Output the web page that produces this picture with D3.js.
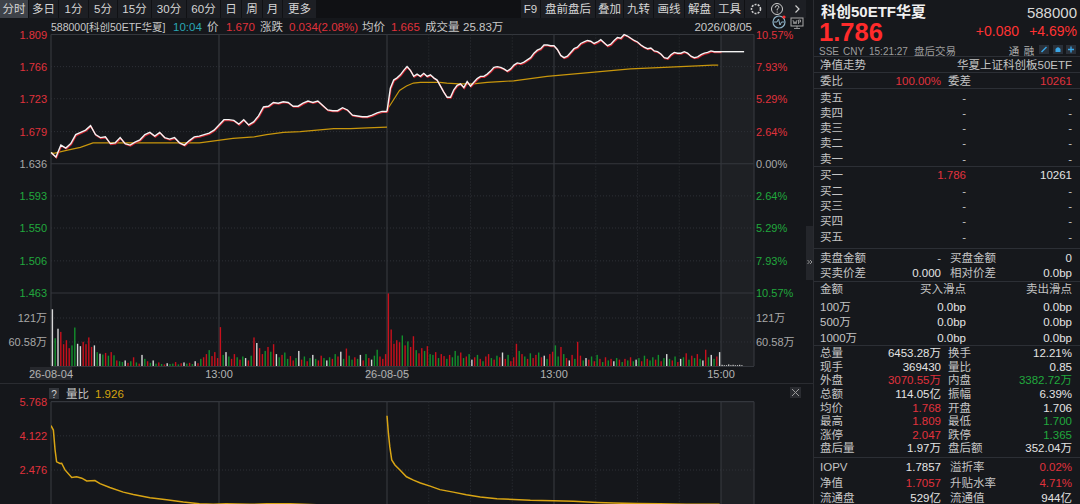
<!DOCTYPE html>
<html>
<head>
<meta charset="utf-8">
<script src="https://cdn.jsdelivr.net/npm/d3@7"></script>
<style>
html, body { margin: 0; padding: 0; background: #15171b; overflow: hidden; }
svg { display: block; font-family: "Liberation Sans", "Noto Sans CJK SC", sans-serif; }
</style>
</head>
<body>
<div id="chart"></div>
<script>
// ---- data ----
var priceTicks = [1.809, 1.766, 1.723, 1.679, 1.636, 1.593, 1.550, 1.506, 1.463];
var pctLabels = ["10.57%", "7.93%", "5.29%", "2.64%", "0.00%", "2.64%", "5.29%", "7.93%", "10.57%"];
var volTicks = [121, 60.58];
var volLabels = ["121万", "60.58万"];
var ratioTicks = [5.768, 4.122, 2.476];
var timeTicks = [0, 120, 240, 360, 480];
var timeLabels = ["26-08-04", "13:00", "26-08-05", "13:00", "15:00"];

// minute price, day 1 (evenly spread 9:30 -> 15:00)
var day1Price = [1.651, 1.645, 1.661, 1.657, 1.663, 1.675, 1.678, 1.681, 1.687,
  1.675, 1.671, 1.672, 1.663, 1.664, 1.671, 1.663, 1.661, 1.665, 1.668, 1.675, 1.678, 1.673, 1.678, 1.671, 1.669, 1.671, 1.664,
  1.661,
  1.667, 1.672, 1.673, 1.675, 1.677, 1.681, 1.688, 1.695, 1.695, 1.694, 1.689, 1.695, 1.688, 1.692, 1.700, 1.712, 1.713, 1.718,
  1.717, 1.719, 1.718, 1.713, 1.713, 1.717, 1.720, 1.718, 1.720, 1.714,
  1.708,
  1.707, 1.707, 1.711, 1.708, 1.701, 1.700, 1.699, 1.699, 1.701, 1.704, 1.706,
  1.706];
var day2Price = [1.706, 1.737, 1.748, 1.751, 1.755, 1.761, 1.766, 1.761, 1.753, 1.756,
  1.753, 1.757, 1.753, 1.755, 1.751, 1.748, 1.740, 1.732, 1.725, 1.725,
  1.735, 1.741, 1.743, 1.738, 1.746, 1.740, 1.745, 1.750, 1.753, 1.753,
  1.756, 1.760, 1.765, 1.766, 1.765, 1.763, 1.760, 1.763, 1.768, 1.771,
  1.770, 1.772, 1.775, 1.778, 1.784, 1.788, 1.790, 1.795, 1.795, 1.794,
  1.794, 1.789, 1.781, 1.778, 1.780, 1.785, 1.790, 1.792, 1.797, 1.799,
  1.801, 1.800, 1.797, 1.799, 1.802, 1.798, 1.794, 1.796, 1.801, 1.805,
  1.804, 1.809, 1.807, 1.804, 1.801, 1.799, 1.795, 1.792, 1.790, 1.791,
  1.787, 1.786, 1.783, 1.778, 1.777, 1.782, 1.785, 1.784, 1.784, 1.786,
  1.784, 1.780, 1.778, 1.779, 1.782, 1.784, 1.785, 1.787, 1.786, 1.786,
  1.786];
var afterMin = [0, 21];
var afterPrice = [1.786, 1.786];

// average price line
var day1AvgMin = [0, 2, 11, 21, 30, 106, 118, 130, 145, 154, 166, 178, 190, 202, 214, 226, 240];
var day1Avg = [1.651, 1.650, 1.654, 1.658, 1.664, 1.664, 1.667, 1.670, 1.672, 1.675, 1.678, 1.679, 1.681, 1.683, 1.683, 1.684, 1.685];
var day2AvgMin = [0, 4.5, 9, 14, 19, 24, 31, 38, 43, 52, 62, 72, 81, 91, 103, 115, 127, 139, 151, 163, 175, 187, 199, 211, 223, 234, 238];
var day2Avg = [1.708, 1.721, 1.734, 1.740, 1.744, 1.745, 1.745, 1.745, 1.744, 1.743, 1.743, 1.745, 1.746, 1.747, 1.750, 1.753,
  1.755, 1.757, 1.759, 1.761, 1.763, 1.764, 1.765, 1.766, 1.767, 1.768, 1.768];

// volume (万) per 2 minutes, r = up, g = down, w = flat
var day1Vol = [143, 70, 94, 86, 55, 65, 45, 52, 97, 56, 50, 61,
  55, 72, 48, 52, 35, 31, 29, 33, 26, 35, 27, 14,
  12, 10, 14, 8, 12, 22, 9, 6, 28, 18, 12, 8,
  14, 6, 9, 5, 4, 7, 5, 6, 10, 4, 7, 9,
  6, 8, 5, 12, 7, 18, 22, 30, 40, 25, 35, 20,
  98, 28, 35, 24, 18, 30, 22, 16, 24, 20, 14, 26,
  72, 58, 45, 30, 38, 48, 36, 55, 30, 22, 28, 34,
  18, 25, 14, 20, 38, 16, 24, 12, 20, 28, 18, 14,
  26, 20, 14, 22, 18, 30, 24, 36, 18, 44, 26, 16,
  22, 18, 28, 14, 30, 20, 16, 26, 41, 24, 18, 30];
var day1Dir = "wgwrrrrggwwr" + "rrrwgwgrgrgr" + "ggwrgrgrwgrg" + "wgrgrwggrgrw" + "grgwrgrrgrrr" +
  "rgwgrrgrgwrg" + "rwrrgrgrwgrg" + "grrgwrgrgwgr" + "rgwgrgrwgrgg" + "rgwrgrwggrrr";
var day2Vol = [183, 92, 56, 65, 60, 77, 52, 62, 48, 75, 40, 32,
  45, 38, 50, 30, 28, 35, 20, 30, 25, 18, 28, 22,
  38, 26, 34, 20, 24, 30, 16, 22, 28, 18, 12, 24,
  30, 20, 16, 26, 22, 34, 18, 28, 12, 22, 56, 38,
  30, 24, 18, 32, 20, 28, 34, 22, 26, 18, 30, 36,
  52, 24, 48, 30, 20, 14, 28, 18, 61, 26, 14, 20,
  16, 24, 12, 28, 18, 10, 22, 14, 18, 12, 20, 16,
  10, 18, 14, 22, 12, 16, 20, 12, 26, 18, 14, 22,
  16, 28, 12, 20, 30, 18, 14, 24, 10, 18, 22, 32,
  16, 26, 20, 30, 18, 14, 41, 22, 28, 18, 24, 35];
var day2Dir = "rrrrrgrgrrgr" + "rgrggrgrrgrg" + "ggrgrgwrgrgr" + "rgrgrwrgrrrg" + "rgrgrrgrwgrr" +
  "ggrgrwrgrrgw" + "rgrgrgrgrwgr" + "grgrgwgrgrgg" + "rgrgwgrgrwgr" + "grgrgwrgwgrw";
var afterVol = [3, 2, 2, 4, 2, 3, 2, 2, 3, 2];

// 量比 line
var day1RatioMin = [0, 1.7, 2.9, 4, 6.4, 7.6, 10, 14.8, 18.3, 22, 25.5, 31.4, 35, 42, 51.6, 58.8, 70.7, 82.6, 94.5, 106, 116, 125, 142, 154, 171, 190, 214, 239];
var day1Ratio = [4.62, 4.40, 3.45, 2.87, 2.79, 2.80, 2.48, 2.12, 2.15, 2.08, 1.95, 1.97, 1.82, 1.63, 1.41, 1.30, 1.14, 1.04, 0.93, 0.85, 0.82, 0.85, 0.82, 0.85, 0.85, 0.80, 0.78, 0.76];
var day2RatioMin = [0, 1, 2, 3.4, 5.7, 9.3, 14, 19, 24, 31, 38, 47.6, 57, 67, 79, 91, 103, 119.5, 134, 151, 163, 180, 196, 215, 239];
var day2Ratio = [5.09, 4.25, 3.60, 2.96, 2.72, 2.48, 2.15, 1.99, 1.85, 1.70, 1.53, 1.41, 1.28, 1.17, 1.09, 1.06, 1.02, 0.99, 0.97, 0.91, 0.88, 0.86, 0.85, 0.83, 0.82];

// right quote panel
var sellLabels = ["卖五", "卖四", "卖三", "卖二", "卖一"];
var buyLabels = ["买一", "买二", "买三", "买四", "买五"];
var buyPrices = ["1.786", "-", "-", "-", "-"];
var buySizes = ["10261", "-", "-", "-", "-"];
var slipLabels = ["100万", "500万", "1000万"];
var statLeft = ["总量", "现手", "外盘", "总额", "均价", "最高", "涨停", "盘后量"];
var statLeftVal = ["6453.28万", "369430", "3070.55万", "114.05亿", "1.768", "1.809", "2.047", "1.97万"];
var statLeftCol = ["w", "w", "r", "w", "r", "r", "r", "w"];
var statRight = ["换手", "量比", "内盘", "振幅", "开盘", "最低", "跌停", "盘后额"];
var statRightVal = ["12.21%", "0.85", "3382.72万", "6.39%", "1.706", "1.700", "1.365", "352.04万"];
var statRightCol = ["w", "w", "g", "w", "w", "g", "g", "w"];
var navLeft = ["IOPV", "净值", "流通盘"];
var navLeftVal = ["1.7857", "1.7057", "529亿"];
var navLeftCol = ["w", "r", "w"];
var navRight = ["溢折率", "升贴水率", "流通值"];
var navRightVal = ["0.02%", "4.71%", "944亿"];
var navRightCol = ["r", "r", "w"];

var tabs = ["分时", "多日", "1分", "5分", "15分", "30分", "60分", "日", "周", "月", "更多"];
var tabEdges = [0, 29, 59, 89, 118, 152, 187, 221, 242, 263, 283, 317];
var tools = ["F9", "盘前盘后", "叠加", "九转", "画线", "解盘", "工具"];
var toolEdges = [521, 541, 596, 624, 654, 685, 715, 745];

// ---- colours ----
var RED = "#e0323c", GREEN = "#21a83d", TXT = "#c4c4c4", WHITE = "#e4e4e4", GRIDC = "#34373d", DOTC = "#2e3137";
function col(c) { return c == "r" ? RED : (c == "g" ? GREEN : WHITE); }

// ---- scales ----
var x = d3.scaleLinear().domain([0, 240, 480, 510]).range([51, 387, 721, 754]);
var yP = d3.scaleLinear().domain([1.463, 1.809]).range([293, 34.5]);
var yV = d3.scaleLinear().domain([0, 121]).range([366, 318]);
var yR = d3.scaleLinear().domain([2.476, 5.768]).range([470, 401.7]);

var svg = d3.select("#chart").append("svg").attr("width", 1080).attr("height", 504);

function text(g, tx, ty, s, fill, size, anchor, weight) {
  return g.append("text").attr("x", tx).attr("y", ty).text(s)
    .attr("fill", fill).attr("font-size", size || 11)
    .attr("text-anchor", anchor || "start")
    .attr("font-weight", weight || "normal");
}

// backgrounds
svg.append("rect").attr("width", 1080).attr("height", 504).attr("fill", "#15171b");
svg.append("rect").attr("x", 814).attr("y", 0).attr("width", 266).attr("height", 504).attr("fill", "#16181c");
svg.append("line").attr("x1", 813.5).attr("x2", 813.5).attr("y1", 0).attr("y2", 504).attr("stroke", "#2a2c31");

// ---- toolbar ----
var bar = svg.append("g");
bar.append("rect").attr("x", 0).attr("y", 0).attr("width", 806).attr("height", 18).attr("fill", "#101114");
tabs.forEach(function(t, i) {
  bar.append("rect").attr("x", tabEdges[i]).attr("y", 0)
    .attr("width", tabEdges[i + 1] - tabEdges[i] - 1).attr("height", 18)
    .attr("fill", i == 0 ? "#3e4249" : "#1d1f24");
  text(bar, (tabEdges[i] + tabEdges[i + 1] - 1) / 2, 13, t, "#d6d6d6", 11.5, "middle");
});
tools.forEach(function(t, i) {
  bar.append("rect").attr("x", toolEdges[i]).attr("y", 0)
    .attr("width", toolEdges[i + 1] - toolEdges[i] - 1).attr("height", 18).attr("fill", "#1d1f24");
  text(bar, (toolEdges[i] + toolEdges[i + 1] - 1) / 2, 13, t, "#d6d6d6", 11.5, "middle");
});
[745, 767, 788].forEach(function(bx, i) {
  bar.append("rect").attr("x", bx).attr("y", 0).attr("width", (i == 2 ? 18 : 21)).attr("height", 18).attr("fill", "#1d1f24");
});
bar.append("circle").attr("cx", 756).attr("cy", 9).attr("r", 4.5).attr("fill", "none").attr("stroke", "#cfcfcf").attr("stroke-width", 1.6).attr("stroke-dasharray", "2 1.2");
bar.append("circle").attr("cx", 777).attr("cy", 9).attr("r", 5.5).attr("fill", "none").attr("stroke", "#cfcfcf").attr("stroke-width", 1);
bar.append("path").attr("d", "M775.2,7.6 Q775.5,5.4 777.3,5.5 Q779.2,5.8 778.8,7.6 Q778.3,8.6 777.2,9.2 L777.2,10.4 M777.2,11.6 L777.2,12.6")
  .attr("fill", "none").attr("stroke", "#cfcfcf").attr("stroke-width", 1);
bar.append("path").attr("d", "M795.5,5.5 L799,9 L795.5,12.5").attr("fill", "none").attr("stroke", "#cfcfcf").attr("stroke-width", 1.2);

// ---- info line ----
var info = svg.append("g");
text(info, 51, 31, "588000[科创50ETF华夏]", "#c8c8c8", 10.5);
text(info, 173, 31, "10:04", "#2aa6b4", 11.5);
text(info, 207, 31, "价", "#c8c8c8", 11.5);
text(info, 226, 31, "1.670", RED, 11.5);
text(info, 260, 31, "涨跌", "#c8c8c8", 11.5);
text(info, 289, 31, "0.034(2.08%)", RED, 11.5);
text(info, 362, 31, "均价", "#c8c8c8", 11.5);
text(info, 391, 31, "1.665", RED, 11.5);
text(info, 425, 31, "成交量", "#c8c8c8", 11.5);
text(info, 463, 31, "25.83万", "#c8c8c8", 11.5);
text(info, 752, 31, "2026/08/05", "#c8c8c8", 11.5, "end");
info.append("circle").attr("cx", 779).attr("cy", 22).attr("r", 6).attr("fill", "none").attr("stroke", "#8fb4c8").attr("stroke-width", 1.2);
info.append("path").attr("d", "M774,22 L777,22 L778.5,19 L780,25 L781.5,22 L784,22").attr("fill", "none").attr("stroke", "#8fb4c8").attr("stroke-width", 1);
info.append("circle").attr("cx", 784).attr("cy", 17).attr("r", 1.6).attr("fill", "#ff3030");
info.append("rect").attr("x", 791).attr("y", 18).attr("width", 12).attr("height", 8).attr("fill", "none").attr("stroke", "#aaa").attr("stroke-width", 1);
info.append("path").attr("d", "M793,20 L794,24 L795,21.5 L796,24 L797,20 M798.5,24 L798.5,20 L800.5,20 L800.5,22 L798.5,22 M794,28.5 L800,28.5 M797,26 L797,28.5")
  .attr("fill", "none").attr("stroke", "#aaa").attr("stroke-width", 0.8);

// ---- grids / panels ----
var grid = svg.append("g");
grid.append("rect").attr("x", x(480)).attr("y", 34.5).attr("width", x(510) - x(480)).attr("height", 366 - 34.5).attr("fill", "#1e2024");
grid.append("rect").attr("x", x(480)).attr("y", 401.7).attr("width", x(510) - x(480)).attr("height", 504 - 401.7).attr("fill", "#1e2024");

priceTicks.forEach(function(p, i) {
  var solid = (i == 0 || i == 4 || i == 8);
  grid.append("line").attr("x1", x(0)).attr("x2", x(510)).attr("y1", yP(p)).attr("y2", yP(p))
    .attr("stroke", solid ? GRIDC : DOTC).attr("stroke-width", solid ? 1.2 : 1)
    .attr("stroke-dasharray", solid ? null : "1 2");
});
volTicks.forEach(function(v) {
  grid.append("line").attr("x1", x(0)).attr("x2", x(510)).attr("y1", yV(v)).attr("y2", yV(v))
    .attr("stroke", DOTC).attr("stroke-dasharray", "1 2");
});
grid.append("line").attr("x1", x(0)).attr("x2", x(510)).attr("y1", yV(0) + 0.5).attr("y2", yV(0) + 0.5).attr("stroke", GRIDC);
ratioTicks.forEach(function(r, i) {
  grid.append("line").attr("x1", x(0)).attr("x2", x(510)).attr("y1", yR(r)).attr("y2", yR(r))
    .attr("stroke", i == 0 ? GRIDC : DOTC).attr("stroke-width", i == 0 ? 1.2 : 1)
    .attr("stroke-dasharray", i == 0 ? null : "1 2");
});
// vertical lines
[0, 120, 240, 360, 480, 510].forEach(function(m) {
  grid.append("line").attr("x1", x(m)).attr("x2", x(m)).attr("y1", 34.5).attr("y2", 366).attr("stroke", GRIDC).attr("stroke-width", 1.2);
  grid.append("line").attr("x1", x(m)).attr("x2", x(m)).attr("y1", 401.7).attr("y2", 504).attr("stroke", GRIDC).attr("stroke-width", 1.2);
});
[270, 300, 330, 390, 420, 450].forEach(function(m) {
  grid.append("line").attr("x1", x(m)).attr("x2", x(m)).attr("y1", 34.5).attr("y2", 366).attr("stroke", DOTC).attr("stroke-dasharray", "1 2");
  grid.append("line").attr("x1", x(m)).attr("x2", x(m)).attr("y1", 401.7).attr("y2", 504).attr("stroke", DOTC).attr("stroke-dasharray", "1 2");
});

// ---- axis labels ----
var axes = svg.append("g");
priceTicks.forEach(function(p, i) {
  var c = i < 4 ? RED : (i == 4 ? "#a8a8a8" : GREEN);
  text(axes, 47, yP(p) + 4, p.toFixed(3), c, 11, "end");
  text(axes, 756, yP(p) + 4, pctLabels[i], c, 11);
});
volTicks.forEach(function(v, i) {
  text(axes, 47, yV(v) + 4, volLabels[i], "#a8a8a8", 11, "end");
  text(axes, 756, yV(v) + 4, volLabels[i], "#a8a8a8", 11);
});
ratioTicks.forEach(function(r) {
  text(axes, 47, yR(r) + 4, r.toFixed(3), RED, 11, "end");
});
timeTicks.forEach(function(m, i) {
  var isDate = timeLabels[i].indexOf("-") > 0;
  if (isDate) {
    axes.append("rect").attr("x", x(m) - 21).attr("y", 367).attr("width", 42).attr("height", 13).attr("fill", "#26282d");
  }
  text(axes, x(m), 377.5, timeLabels[i], "#b4b4b4", 11, "middle");
});
svg.append("line").attr("x1", 0).attr("x2", 813).attr("y1", 383.5).attr("y2", 383.5).attr("stroke", "#2a2c31");

// ---- price lines ----
var plot = svg.append("g");
function dayLine(arr, offset) {
  var n = arr.length;
  return d3.line()
    .x(function(d, i) { return x(offset + i * 240 / (n - 1)); })
    .y(function(d) { return yP(d); })(arr);
}
function avgLine(mins, vals, offset, ys) {
  return d3.line()
    .x(function(d, i) { return x(offset + mins[i]); })
    .y(function(d) { return ys(d); })(vals);
}
plot.append("path").attr("d", avgLine(day1AvgMin, day1Avg, 0, yP)).attr("fill", "none").attr("stroke", "#c8960c").attr("stroke-width", 1.2);
plot.append("path").attr("d", avgLine(day2AvgMin, day2Avg, 240, yP)).attr("fill", "none").attr("stroke", "#c8960c").attr("stroke-width", 1.2);

[[day1Price, 0], [day2Price, 240]].forEach(function(p) {
  plot.append("path").attr("d", dayLine(p[0], p[1])).attr("fill", "none")
    .attr("stroke", "#c8202a").attr("stroke-width", 1.4).attr("transform", "translate(0.6,0.9)");
  plot.append("path").attr("d", dayLine(p[0], p[1])).attr("fill", "none")
    .attr("stroke", "#f4f4f4").attr("stroke-width", 1.4);
});
plot.append("path").attr("d", avgLine(afterMin, afterPrice, 480, yP)).attr("fill", "none").attr("stroke", "#f4f4f4").attr("stroke-width", 1.4);

// ---- volume bars ----
var vol = svg.append("g");
function bars(vals, dirs, offset) {
  vol.selectAll(null).data(vals).enter().append("rect")
    .attr("x", function(d, i) { return x(offset + i * 2 + 1) - 0.7; })
    .attr("y", function(d) { return yV(d); })
    .attr("width", 1.4)
    .attr("height", function(d) { return yV(0) - yV(d); })
    .attr("fill", function(d, i) { var c = dirs.charAt(i); return c == "r" ? "#c8101c" : (c == "g" ? "#12902c" : "#d8d8d8"); });
}
bars(day1Vol, day1Dir, 0);
bars(day2Vol, day2Dir, 240);
vol.selectAll(null).data(afterVol).enter().append("rect")
  .attr("x", function(d, i) { return x(480 + i * 2 + 1) - 0.6; })
  .attr("y", function(d) { return yV(d); })
  .attr("width", 1.2)
  .attr("height", function(d) { return yV(0) - yV(d); })
  .attr("fill", "#d8d8d8");

// ---- 量比 panel ----
var lower = svg.append("g");
lower.append("rect").attr("x", 49).attr("y", 388).attr("width", 10).attr("height", 11).attr("fill", "#33363c");
text(lower, 54, 397.5, "?", "#d0d0d0", 10, "middle");
text(lower, 66, 397.5, "量比", "#c8c8c8", 11.5);
text(lower, 95, 397.5, "1.926", "#d4a40f", 11.5);
lower.append("rect").attr("x", 790).attr("y", 387).attr("width", 11).attr("height", 11).attr("fill", "#2a2c31");
lower.append("path").attr("d", "M792,389 L799,396 M799,389 L792,396").attr("stroke", "#9a9a9a").attr("stroke-width", 1);
var clip = svg.append("clipPath").attr("id", "rclip");
clip.append("rect").attr("x", 51).attr("y", 401.7).attr("width", 703).attr("height", 103);
lower.append("path").attr("d", avgLine(day1RatioMin, day1Ratio, 0, yR)).attr("clip-path", "url(#rclip)")
  .attr("fill", "none").attr("stroke", "#d9a514").attr("stroke-width", 1.5);
lower.append("path").attr("d", avgLine(day2RatioMin, day2Ratio, 240, yR)).attr("clip-path", "url(#rclip)")
  .attr("fill", "none").attr("stroke", "#d9a514").attr("stroke-width", 1.5);

// ---- right quote panel ----
var rp = svg.append("g");
rp.append("rect").attr("x", 806).attr("y", 226).attr("width", 7).attr("height", 54).attr("fill", "#24262b");
rp.append("path").attr("d", "M807.5,260 L809.5,262 L807.5,264 M810,260 L812,262 L810,264").attr("fill", "none").attr("stroke", "#a0a0a0").attr("stroke-width", 0.9);

text(rp, 821, 16.5, "科创50ETF华夏", "#f0f0f0", 15, "start", "bold");
text(rp, 1077, 17.5, "588000", "#d8d8d8", 15, "end");
text(rp, 819, 41, "1.786", "#ff2b2b", 25.5, "start", "bold");
text(rp, 1019, 36, "+0.080", "#ff3333", 14, "end");
text(rp, 1077, 36, "+4.69%", "#ff3333", 14, "end");
text(rp, 819, 54.5, "SSE", "#9c9c9c", 10);
text(rp, 843, 54.5, "CNY", "#9c9c9c", 10);
text(rp, 869, 54.5, "15:21:27", "#9c9c9c", 10);
text(rp, 914, 54.5, "盘后交易", "#9c9c9c", 10.5);
text(rp, 1014, 54.5, "通", "#b0b0b0", 10.5, "middle");
text(rp, 1029, 54.5, "融", "#b0b0b0", 10.5, "middle");
[1039, 1053, 1066].forEach(function(bx) {
  rp.append("rect").attr("x", bx).attr("y", 45).attr("width", 10).attr("height", 9).attr("fill", "#2a3039");
});
rp.append("path").attr("d", "M1041.5,52 L1046.5,47").attr("stroke", "#3aa6e6").attr("stroke-width", 1.4);
rp.append("path").attr("d", "M1055.5,52 L1055.5,49 Q1058,45.5 1060.5,49 L1060.5,52 Z").attr("fill", "#3aa6e6");
rp.append("path").attr("d", "M1071,46.5 L1071,52.5 M1068,49.5 L1074,49.5").attr("stroke", "#3aa6e6").attr("stroke-width", 1.3);

[56, 72, 88, 166, 248, 281, 345, 457].forEach(function(ly) {
  rp.append("line").attr("x1", 814).attr("x2", 1080).attr("y1", ly + 0.5).attr("y2", ly + 0.5).attr("stroke", "#2c2f35");
});

var L1 = 820, V1 = 941, L2 = 949, V2 = 1072, VS = 966, FS = 11.5;
text(rp, L1, 69, "净值走势", TXT, FS);
text(rp, V2, 69, "华夏上证科创板50ETF", TXT, FS, "end");
text(rp, L1, 85, "委比", TXT, FS);
text(rp, V1, 85, "100.00%", RED, FS, "end");
text(rp, L2 - 1, 85, "委差", TXT, FS);
text(rp, V2, 85, "10261", RED, FS, "end");
var sellY = [101.7, 117.3, 132.3, 147.3, 163];
sellLabels.forEach(function(s, i) {
  text(rp, L1, sellY[i], s, TXT, FS);
  text(rp, VS, sellY[i], "-", TXT, FS, "end");
  text(rp, V2, sellY[i], "-", TXT, FS, "end");
});
var buyY = [179, 194.7, 210, 224.7, 240.7];
buyLabels.forEach(function(s, i) {
  text(rp, L1, buyY[i], s, TXT, FS);
  text(rp, VS, buyY[i], buyPrices[i], i == 0 ? RED : TXT, FS, "end");
  text(rp, V2, buyY[i], buySizes[i], i == 0 ? WHITE : TXT, FS, "end");
});
text(rp, L1, 262.3, "卖盘金额", TXT, FS);
text(rp, V1, 262.3, "-", TXT, FS, "end");
text(rp, L2 + 1, 262.3, "买盘金额", TXT, FS);
text(rp, V2, 262.3, "0", WHITE, FS, "end");
text(rp, L1, 277.3, "买卖价差", TXT, FS);
text(rp, V1, 277.3, "0.000", WHITE, FS, "end");
text(rp, L2 + 1, 277.3, "相对价差", TXT, FS);
text(rp, V2, 277.3, "0.0bp", WHITE, FS, "end");
text(rp, L1, 293.3, "金额", TXT, FS);
text(rp, VS, 293.3, "买入滑点", TXT, FS, "end");
text(rp, V2, 293.3, "卖出滑点", TXT, FS, "end");
var slipY = [310.7, 325.7, 341.7];
slipLabels.forEach(function(s, i) {
  text(rp, L1, slipY[i], s, TXT, FS);
  text(rp, VS, slipY[i], "0.0bp", WHITE, FS, "end");
  text(rp, V2, slipY[i], "0.0bp", WHITE, FS, "end");
});
statLeft.forEach(function(s, i) {
  var sy = 357.3 + i * 13.57;
  text(rp, L1, sy, s, TXT, FS);
  text(rp, V1, sy, statLeftVal[i], col(statLeftCol[i]), FS, "end");
  text(rp, L2 - 1, sy, statRight[i], TXT, FS);
  text(rp, V2, sy, statRightVal[i], col(statRightCol[i]), FS, "end");
});
var navY = [470.7, 486.7, 501.7];
navLeft.forEach(function(s, i) {
  text(rp, L1, navY[i], s, TXT, FS);
  text(rp, V1, navY[i], navLeftVal[i], col(navLeftCol[i]), FS, "end");
  text(rp, L2 + 1, navY[i], navRight[i], TXT, FS);
  text(rp, V2, navY[i], navRightVal[i], col(navRightCol[i]), FS, "end");
});
</script>
</body>
</html>
